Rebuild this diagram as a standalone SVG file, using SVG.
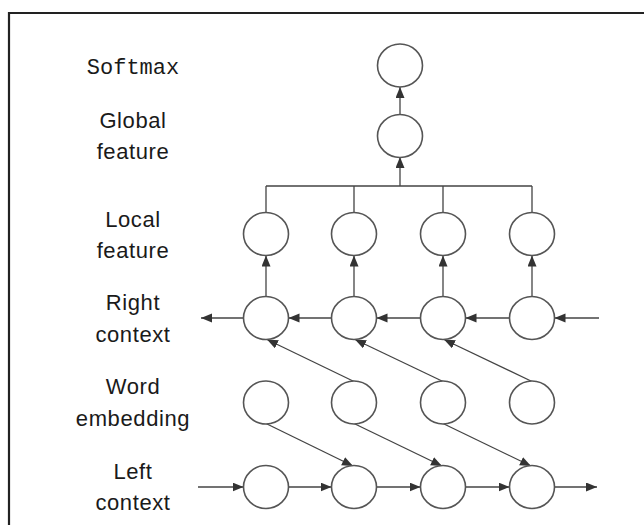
<svg xmlns="http://www.w3.org/2000/svg" width="644" height="525" viewBox="0 0 644 525">
<defs>
<style>
.lbl{font-family:"Liberation Sans",Arial,sans-serif;font-size:22px;letter-spacing:0.6px;fill:#1a1a1a;text-anchor:middle}
.mono{font-family:"Liberation Mono","Courier New",monospace;font-size:22px;fill:#1a1a1a;text-anchor:middle}
.n{fill:#fff;stroke:#555;stroke-width:1.6}
.c{fill:none;stroke:#444;stroke-width:1.3}
.a{fill:none;stroke:#444;stroke-width:1.3;marker-end:url(#ah)}
</style>
<marker id="ah" markerUnits="userSpaceOnUse" markerWidth="12" markerHeight="10" refX="11" refY="4.5" orient="auto">
<path d="M0,0 L11,4.5 L0,9 z" fill="#333"/>
</marker>
</defs>
<rect x="0" y="0" width="644" height="525" fill="#fff"/>
<path d="M9,540 V13 H660" fill="none" stroke="#222" stroke-width="2.2"/>
<g id="labels">
<text class="mono" x="133" y="74">Softmax</text>
<text class="lbl" x="133" y="128">Global</text>
<text class="lbl" x="133" y="159">feature</text>
<text class="lbl" x="133" y="227">Local</text>
<text class="lbl" x="133" y="258">feature</text>
<text class="lbl" x="133" y="310">Right</text>
<text class="lbl" x="133" y="342">context</text>
<text class="lbl" x="133" y="394">Word</text>
<text class="lbl" x="133" y="426">embedding</text>
<text class="lbl" x="133" y="479">Left</text>
<text class="lbl" x="133" y="510">context</text>
</g>
<g id="connectors">
<path class="a" d="M400,115 V87"/>
<path class="a" d="M400,186 V157"/>
<path class="c" d="M266,186 H532 M266,186 V213 M354,186 V213 M443,186 V213 M532,186 V213"/>
<path class="a" d="M266,297 V255.5"/>
<path class="a" d="M354,297 V255.5"/>
<path class="a" d="M443,297 V255.5"/>
<path class="a" d="M532,297 V255.5"/>
<path class="a" d="M599,318 H554.5"/>
<path class="a" d="M509.5,318 H465.5"/>
<path class="a" d="M420.5,318 H376.5"/>
<path class="a" d="M331.5,318 H288.5"/>
<path class="a" d="M243.5,318 H201"/>
<path class="a" d="M354,381.5 L267,339.5"/>
<path class="a" d="M443,381.5 L355,339.5"/>
<path class="a" d="M532,381.5 L444,339.5"/>
<path class="a" d="M266,423.5 L353,466"/>
<path class="a" d="M354,423.5 L442,466"/>
<path class="a" d="M443,423.5 L531,466"/>
<path class="a" d="M198,487 H243.5"/>
<path class="a" d="M288.5,487 H331.5"/>
<path class="a" d="M376.5,487 H420.5"/>
<path class="a" d="M465.5,487 H509.5"/>
<path class="a" d="M554.5,487 H597"/>
</g>
<g id="softmax"><ellipse class="n" cx="400" cy="65.5" rx="22.5" ry="21.5"/></g>
<g id="global"><ellipse class="n" cx="400" cy="136" rx="22.5" ry="21.5"/></g>
<g id="local1"><ellipse class="n" cx="266" cy="234" rx="22.5" ry="21.5"/></g>
<g id="local2"><ellipse class="n" cx="354" cy="234" rx="22.5" ry="21.5"/></g>
<g id="local3"><ellipse class="n" cx="443" cy="234" rx="22.5" ry="21.5"/></g>
<g id="local4"><ellipse class="n" cx="532" cy="234" rx="22.5" ry="21.5"/></g>
<g id="right1"><ellipse class="n" cx="266" cy="318" rx="22.5" ry="21.5"/></g>
<g id="right2"><ellipse class="n" cx="354" cy="318" rx="22.5" ry="21.5"/></g>
<g id="right3"><ellipse class="n" cx="443" cy="318" rx="22.5" ry="21.5"/></g>
<g id="right4"><ellipse class="n" cx="532" cy="318" rx="22.5" ry="21.5"/></g>
<g id="word1"><ellipse class="n" cx="266" cy="402.5" rx="22.5" ry="21.5"/></g>
<g id="word2"><ellipse class="n" cx="354" cy="402.5" rx="22.5" ry="21.5"/></g>
<g id="word3"><ellipse class="n" cx="443" cy="402.5" rx="22.5" ry="21.5"/></g>
<g id="word4"><ellipse class="n" cx="532" cy="402.5" rx="22.5" ry="21.5"/></g>
<g id="left1"><ellipse class="n" cx="266" cy="487" rx="22.5" ry="21.5"/></g>
<g id="left2"><ellipse class="n" cx="354" cy="487" rx="22.5" ry="21.5"/></g>
<g id="left3"><ellipse class="n" cx="443" cy="487" rx="22.5" ry="21.5"/></g>
<g id="left4"><ellipse class="n" cx="532" cy="487" rx="22.5" ry="21.5"/></g>
</svg>
